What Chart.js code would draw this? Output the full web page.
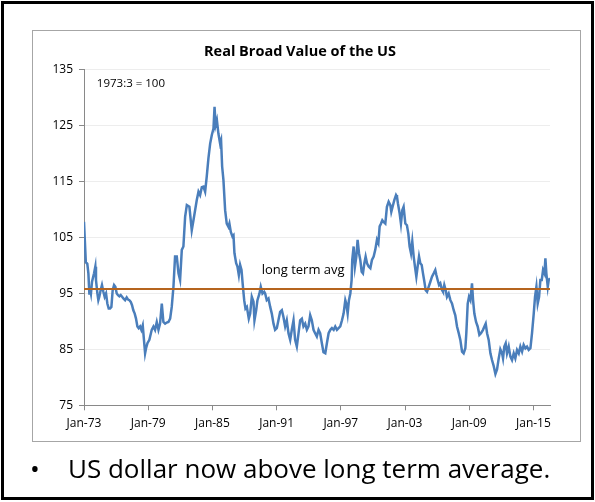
<!DOCTYPE html>
<html>
<head>
<meta charset="utf-8">
<script src="https://cdn.jsdelivr.net/npm/chart.js@4.4.1/dist/chart.umd.min.js"></script>
<style>
  body { margin: 0; background: #fff; }
  #page { position: relative; width: 595px; height: 502px; overflow: hidden; background: #fff; }
  #frame { position: absolute; left: 1px; top: 1px; width: 587px; height: 493px; border: 3px solid #000; }
  #box { position: absolute; left: 32px; top: 30px; width: 547px; height: 410px; border: 1px solid #a6a6a6; }
  #chart { position: absolute; left: 0; top: 0; }
  .bullet { position: absolute; top: 450px; font-family: 'Open Sans', sans-serif; font-size: 26px; line-height: 36px; color: #000; white-space: nowrap; }
</style>
</head>
<body>
<div id="page">
  <div id="frame"></div>
  <div id="box"></div>
  <canvas id="chart" width="595" height="502"></canvas>
  <div class="bullet" style="left:30px">&#8226;</div>
  <div class="bullet" style="left:68px">US dollar now above long term average.</div>
</div>
<script>
// real broad dollar index, sampled roughly every month or two (decimal years)
const years = [
  1973.00, 1973.17, 1973.31, 1973.41, 1973.50, 1973.56, 1973.65, 1973.75, 1973.94, 1974.06,
  1974.12, 1974.25, 1974.34, 1974.43, 1974.56, 1974.68, 1974.81, 1974.93, 1975.06, 1975.18,
  1975.31, 1975.43, 1975.56, 1975.68, 1975.81, 1975.93, 1976.06, 1976.18, 1976.31, 1976.43,
  1976.56, 1976.68, 1976.84, 1976.99, 1977.12, 1977.24, 1977.37, 1977.49, 1977.61, 1977.74,
  1977.86, 1977.99, 1978.11, 1978.24, 1978.36, 1978.49, 1978.60, 1978.71, 1978.80, 1978.93,
  1979.11, 1979.33, 1979.49, 1979.64, 1979.80, 1979.96, 1980.11, 1980.27, 1980.42, 1980.58,
  1980.73, 1980.89, 1981.05, 1981.20, 1981.36, 1981.51, 1981.67, 1981.83, 1981.98, 1982.14,
  1982.29, 1982.45, 1982.61, 1982.85, 1983.07, 1983.23, 1983.54, 1983.70, 1983.85, 1984.01,
  1984.16, 1984.32, 1984.47, 1984.63, 1984.79, 1984.94, 1985.10, 1985.20, 1985.30, 1985.42,
  1985.56, 1985.72, 1985.81, 1985.91, 1986.03, 1986.19, 1986.34, 1986.50, 1986.59, 1986.72,
  1986.87, 1986.97, 1987.06, 1987.22, 1987.34, 1987.47, 1987.59, 1987.72, 1987.84, 1987.97,
  1988.09, 1988.22, 1988.40, 1988.53, 1988.68, 1988.84, 1988.93, 1989.09, 1989.21, 1989.40,
  1989.52, 1989.68, 1989.84, 1989.93, 1990.08, 1990.24, 1990.40, 1990.55, 1990.71, 1990.86,
  1991.02, 1991.17, 1991.33, 1991.49, 1991.64, 1991.80, 1991.95, 1992.11, 1992.27, 1992.42,
  1992.58, 1992.73, 1992.89, 1993.05, 1993.20, 1993.36, 1993.51, 1993.67, 1993.83, 1993.98,
  1994.14, 1994.29, 1994.45, 1994.60, 1994.76, 1994.92, 1995.07, 1995.23, 1995.38, 1995.55,
  1995.70, 1995.86, 1996.02, 1996.17, 1996.33, 1996.48, 1996.64, 1996.79, 1996.95, 1997.11,
  1997.26, 1997.42, 1997.51, 1997.64, 1997.76, 1997.89, 1998.01, 1998.07, 1998.20, 1998.32,
  1998.45, 1998.57, 1998.70, 1998.82, 1998.95, 1999.07, 1999.20, 1999.32, 1999.45, 1999.60,
  1999.76, 1999.91, 2000.07, 2000.22, 2000.38, 2000.51, 2000.63, 2000.76, 2000.88, 2001.00,
  2001.16, 2001.31, 2001.47, 2001.63, 2001.72, 2001.84, 2002.00, 2002.16, 2002.25, 2002.34,
  2002.50, 2002.62, 2002.75, 2002.87, 2003.03, 2003.18, 2003.31, 2003.43, 2003.56, 2003.68,
  2003.81, 2003.93, 2004.06, 2004.18, 2004.31, 2004.43, 2004.56, 2004.68, 2004.81, 2004.93,
  2005.06, 2005.21, 2005.37, 2005.52, 2005.68, 2005.83, 2005.93, 2006.05, 2006.18, 2006.30,
  2006.46, 2006.55, 2006.67, 2006.80, 2006.92, 2007.08, 2007.24, 2007.39, 2007.55, 2007.70,
  2007.86, 2008.02, 2008.17, 2008.33, 2008.48, 2008.64, 2008.73, 2008.86, 2008.98, 2009.11,
  2009.26, 2009.36, 2009.48, 2009.64, 2009.79, 2009.95, 2010.10, 2010.29, 2010.42, 2010.54,
  2010.67, 2010.82, 2010.98, 2011.13, 2011.29, 2011.45, 2011.60, 2011.75, 2011.91, 2012.07,
  2012.16, 2012.28, 2012.41, 2012.53, 2012.69, 2012.85, 2013.00, 2013.16, 2013.31, 2013.47,
  2013.63, 2013.78, 2013.94, 2014.09, 2014.25, 2014.40, 2014.56, 2014.72, 2014.87, 2015.03,
  2015.15, 2015.28, 2015.40, 2015.53, 2015.65, 2015.78, 2015.90, 2016.03, 2016.12, 2016.21,
  2016.34, 2016.43, 2016.55
];
const rbv = [
  107.8, 100.6, 100.3, 98.6, 95.0, 95.9, 95.0, 97.1, 98.6, 99.8,
  97.4, 95.0, 93.8, 94.4, 95.6, 96.5, 95.3, 94.4, 95.0, 93.2,
  92.3, 92.3, 92.6, 95.6, 96.5, 96.2, 95.0, 94.7, 94.5, 94.7,
  94.4, 94.1, 93.8, 94.3, 93.9, 93.8, 93.5, 92.9, 92.0, 91.4,
  90.5, 89.1, 88.8, 89.1, 88.5, 89.3, 86.8, 84.3, 85.2, 86.1,
  86.7, 88.5, 89.1, 88.5, 89.9, 88.5, 89.6, 93.2, 89.9, 89.6,
  89.8, 89.9, 90.5, 92.6, 96.2, 101.6, 101.6, 98.6, 97.4, 102.8,
  103.4, 108.7, 110.8, 110.5, 106.3, 108.1, 111.7, 113.2, 112.6, 114.0,
  114.1, 113.2, 115.9, 119.2, 121.8, 123.3, 124.5, 128.4, 125.1, 126.0,
  123.6, 121.8, 122.4, 117.7, 115.3, 109.9, 107.5, 106.9, 107.5, 106.0,
  105.2, 105.4, 102.2, 100.4, 99.8, 98.3, 100.1, 99.2, 96.5, 93.8,
  92.3, 92.6, 90.5, 91.4, 94.4, 93.5, 90.2, 92.0, 93.8, 95.0,
  96.2, 95.0, 95.3, 95.0, 93.8, 94.1, 92.6, 91.4, 89.6, 88.5,
  88.8, 90.2, 91.7, 92.0, 90.8, 89.1, 90.2, 87.9, 86.7, 88.5,
  90.2, 86.7, 85.5, 87.9, 90.2, 90.5, 89.1, 89.6, 88.5, 89.1,
  91.1, 90.2, 88.5, 87.9, 87.3, 88.5, 87.9, 86.1, 84.5, 84.3,
  86.1, 87.9, 88.5, 88.8, 88.5, 89.1, 88.5, 88.8, 89.1, 90.2,
  91.4, 93.8, 93.2, 91.4, 93.8, 95.0, 97.4, 101.0, 103.4, 99.8,
  101.6, 104.6, 102.2, 101.0, 98.9, 98.6, 100.4, 101.6, 100.4, 99.8,
  99.5, 101.0, 101.6, 102.8, 104.6, 104.0, 107.0, 107.5, 108.1, 107.8,
  107.5, 110.5, 111.4, 110.8, 109.6, 110.5, 111.7, 112.6, 112.3, 111.1,
  109.3, 107.5, 109.9, 110.5, 107.5, 107.2, 105.7, 103.4, 102.2, 104.3,
  101.6, 99.8, 98.0, 99.8, 101.6, 100.4, 100.1, 98.6, 97.1, 95.6,
  95.3, 96.2, 97.1, 98.0, 98.6, 99.2, 98.3, 97.4, 96.5, 96.8,
  95.6, 95.3, 96.5, 95.6, 94.4, 95.0, 93.8, 93.2, 92.0, 91.1,
  89.1, 87.9, 86.7, 84.6, 84.3, 85.2, 87.9, 93.2, 94.4, 93.8,
  96.8, 93.8, 91.4, 89.9, 89.1, 87.6, 87.9, 88.5, 89.1, 89.6,
  87.9, 86.7, 84.3, 83.1, 82.0, 80.6, 81.4, 83.3, 85.0, 84.3,
  83.4, 85.5, 86.1, 84.3, 85.5, 83.7, 83.1, 84.3, 83.4, 84.9,
  84.3, 85.5, 84.6, 85.8, 85.2, 85.5, 84.9, 85.2, 87.9, 91.4,
  94.4, 96.2, 93.2, 94.4, 97.4, 97.4, 99.2, 98.6, 101.3, 98.6,
  96.2, 97.4, 97.7
];
const avgLevel = 95.8;
const tickYears = [1973, 1979, 1985, 1991, 1997, 2003, 2009, 2015];
const tickLabels = ['Jan-73', 'Jan-79', 'Jan-85', 'Jan-91', 'Jan-97', 'Jan-03', 'Jan-09', 'Jan-15'];
const yTicks = [75, 85, 95, 105, 115, 125, 135];

const startYear = years[0];
const endYear = years[years.length - 1];

Chart.defaults.font.family = "'Open Sans', sans-serif";
Chart.defaults.color = '#000';

// small text notes placed in data units
const notes = {
  id: 'notes',
  afterDatasetsDraw(chart) {
    const { ctx, scales: { x, y } } = chart;
    ctx.save();
    ctx.fillStyle = '#000';
    ctx.textBaseline = 'middle';
    ctx.textAlign = 'left';
    ctx.font = "11.5px 'Open Sans'";
    ctx.fillText('1973:3 = 100', x.getPixelForValue(1974.2), y.getPixelForValue(132.6));
    ctx.font = "13px 'Open Sans'";
    ctx.fillText('long term avg', x.getPixelForValue(1989.6), y.getPixelForValue(avgLevel + 3.4));
    ctx.restore();
  }
};

new Chart(document.getElementById('chart'), {
  type: 'line',
  data: {
    datasets: [
      {
        label: 'long term avg',
        data: [{ x: startYear, y: avgLevel }, { x: endYear, y: avgLevel }],
        borderColor: '#b5641e',
        borderWidth: 2,
        pointRadius: 0
      },
      {
        label: 'Real Broad Value',
        data: years.map((yr, i) => ({ x: yr, y: rbv[i] })),
        borderColor: '#4a7ebb',
        borderWidth: 2.5,
        pointRadius: 0,
        tension: 0
      }
    ]
  },
  options: {
    responsive: false,
    devicePixelRatio: 1,
    animation: false,
    layout: { padding: { left: 50, right: 45, top: 0, bottom: 0 } },
    plugins: {
      legend: { display: false },
      tooltip: { enabled: false },
      title: {
        display: true,
        text: 'Real Broad Value of the US',
        color: '#000',
        font: { size: 14.5, weight: 'bold' },
        padding: { top: 43, bottom: 9.4 }
      }
    },
    scales: {
      x: {
        type: 'linear',
        min: startYear,
        max: endYear,
        afterBuildTicks: s => { s.ticks = tickYears.map(v => ({ value: v })); },
        afterFit: s => { s.height = 96.7; },
        grid: { drawOnChartArea: false, tickLength: 5, tickColor: '#898989' },
        border: { display: true, color: '#898989', width: 1 },
        ticks: {
          autoSkip: false,
          maxRotation: 0,
          padding: 6,
          font: { size: 12 },
          callback: v => tickLabels[tickYears.indexOf(v)] ?? ''
        }
      },
      y: {
        min: 75,
        max: 135,
        afterBuildTicks: s => { s.ticks = yTicks.map(v => ({ value: v })); },
        afterFit: s => { s.width = 34; },
        grid: { color: '#ededed', tickLength: 5, tickColor: '#898989' },
        border: { display: true, color: '#898989', width: 1 },
        ticks: { padding: 6, font: { size: 12 } }
      }
    }
  },
  plugins: [notes]
});
</script>
</body>
</html>
